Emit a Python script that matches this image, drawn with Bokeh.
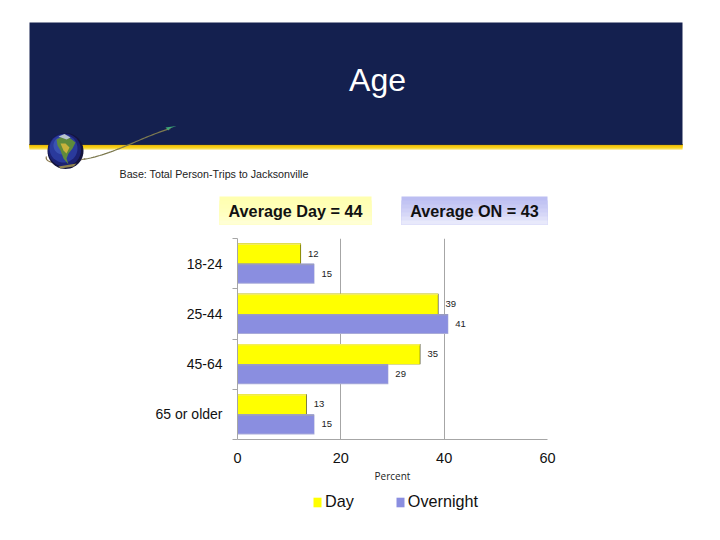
import math
from bokeh.plotting import figure
from bokeh.layouts import column
from bokeh.embed import file_html
from bokeh.resources import INLINE
from bokeh.core.properties import value
from bokeh.models import (ColumnDataSource, Range1d, FixedTicker, Legend, LegendItem, LabelSet)

categories = ["18-24", "25-44", "45-64", "65 or older"]
day_values = [12.3, 38.9, 35.4, 13.4]
overnight_values = [14.9, 40.8, 29.2, 14.9]
day_labels = ["12", "39", "35", "13"]
overnight_labels = ["15", "41", "29", "15"]
x_ticks = [0, 20, 40, 60]
series_names = ["Day", "Overnight"]
series_colors = ["#ffff00", "#8a8ee0"]
title_text = "Age"
base_text = "Base: Total Person-Trips to Jacksonville"
avg_day_text = "Average Day = 44"
avg_on_text = "Average ON = 43"

FONT = "Liberation Sans"
W, H = 720, 540
HEAD = 230
CHART_END = 490

# ---------- header: slide banner, note and the two average boxes ----------
h = figure(width=W, height=HEAD, output_backend="svg", toolbar_location=None,
           x_range=Range1d(0, W), y_range=Range1d(HEAD, 0),
           x_axis_type=None, y_axis_type=None, min_border=0, frame_align=False,
           background_fill_color="white", border_fill_color="white", outline_line_color=None)
h.grid.visible = False


def box(l, t, r, b, color):
    h.quad(left=[l], right=[r], top=[t], bottom=[b], fill_color=color, line_color=None)


def text(x, y, s, size, color="#111111", style="normal", align="left", font=FONT):
    h.text(x=[x], y=[y], text=[s], text_font=value(font), text_font_size=size, text_color=color,
           text_font_style=style, text_align=align, text_baseline="middle")


# gradients are painted as nested boxes, each overlapping the next, so no seams show
for i, c in enumerate(["#fbeea0", "#f8dc4a", "#f6d21f", "#f5c80f", "#e8b90c", "#3b3a2c"]):
    box(29, 143.5, 682, 149.5 - i, c)
box(29, 22, 682, 144, "#14204f")
text(377, 79, title_text, "32px", "#ffffff", align="center")
text(119, 173.5, base_text, "10.7px", "#222222")

for i, c in enumerate(["#ffffb0", "#ffffb4", "#ffffb8", "#ffffbc", "#ffffc2", "#ffffca", "#ffffd4"]):
    box(219, 196 + i * 4, 371, 224, c)
for i, c in enumerate(["#bcbef2", "#c2c4f3", "#c8caf4", "#cfd0f6", "#d6d7f7", "#dfe0f9", "#e8e9fb"]):
    box(401, 196 + i * 4, 547, 224, c)
text(295, 210, avg_day_text, "16.2px", "#111111", "bold", "center")
text(474, 210, avg_on_text, "16.2px", "#111111", "bold", "center")


def bez(p0, p1, p2, p3, n=40):
    xs, ys = [], []
    for k in range(n + 1):
        t = k / n
        a, b, c, d = (1 - t) ** 3, 3 * t * (1 - t) ** 2, 3 * t * t * (1 - t), t ** 3
        xs.append(a * p0[0] + b * p1[0] + c * p2[0] + d * p3[0])
        ys.append(a * p0[1] + b * p1[1] + c * p2[1] + d * p3[1])
    return xs, ys


def disc(cx, cy, r, color):
    a = [2 * math.pi * k / 48 for k in range(48)]
    h.patch([cx + r * math.cos(t) for t in a], [cy + r * math.sin(t) for t in a],
            fill_color=color, line_color=None)


def shape(xs, ys, color):
    h.patch(xs, ys, fill_color=color, line_color=None)


ox, oy = bez((46, 156), (43, 163), (62, 165), (85, 158))
h.line(ox, oy, line_color="#8a7a50", line_width=1.2)
ox, oy = bez((83, 159), (115, 153), (140, 137), (170, 128))
h.line(ox, oy, line_color="#7d7a50", line_width=1.2)
disc(65, 150.5, 18, "#14143c")
disc(64, 149.5, 16.5, "#1c2272")
disc(63, 148, 14, "#2a3a9c")
disc(62, 145, 9, "#3a52b0")
shape([56, 62, 70, 75, 72, 68, 66, 68, 63, 60, 57], [139, 136, 138, 142, 148, 153, 158, 164, 158, 150, 145], "#5f8a3c")
shape([60, 65, 69, 66, 63], [143, 143, 147, 153, 150], "#c9b23c")
shape([58, 64, 70, 66], [136, 133.5, 137, 139], "#b8c4cc")
shape([58, 76, 73, 60], [166, 163, 166, 168], "#8f8350")
shape([176, 165, 168, 169], [125.5, 127, 130, 128], "#3fa878")

# ---------- the chart ----------
p = figure(width=W, height=CHART_END - HEAD, output_backend="svg", toolbar_location=None,
           x_range=Range1d(0, 60), y_range=Range1d(4, 0),
           min_border_left=237, min_border_right=W - 547,
           min_border_top=238 - HEAD, min_border_bottom=CHART_END - 439, frame_align=False,
           background_fill_color="white", border_fill_color="white",
           outline_line_color=None)

y_pos = [i + 0.5 for i in range(len(categories))]
day_y = [v - 0.2 for v in y_pos]
on_y = [v + 0.2 for v in y_pos]
src = ColumnDataSource(dict(day_y=day_y, on_y=on_y, day=day_values, on=overnight_values,
                            dl=day_labels, ol=overnight_labels))

p.hbar(y="day_y", right="day", height=0.4, source=src, fill_color="#3a3a10", line_color=None)
p.hbar(y=day_y, right=[v - 0.12 for v in day_values], height=0.4,
       fill_color=series_colors[0], line_color=None)
p.hbar(y=[v - 0.385 for v in y_pos], right=[v - 0.12 for v in day_values], height=0.03,
       fill_color="#f4ee5a", line_color=None)
p.hbar(y="on_y", right="on", height=0.4, source=src, fill_color="#a9abd8", line_color=None)
p.hbar(y=[v + 0.19 for v in y_pos], right=[v - 0.1 for v in overnight_values], height=0.38,
       fill_color=series_colors[1], line_color=None)
p.hbar(y=[v + 0.015 for v in y_pos], right=[v - 0.1 for v in overnight_values], height=0.03,
       fill_color="#9a9cc0", line_color=None)

for col, lab, xcol in (("day_y", "dl", "day"), ("on_y", "ol", "on")):
    p.add_layout(LabelSet(x=xcol, y=col, text=lab, source=src, x_offset=7, y_offset=0,
                          text_font=value(FONT), text_font_size="9.5px", text_color="#222222",
                          text_baseline="middle"))

p.xaxis.ticker = FixedTicker(ticks=x_ticks)
p.xaxis.major_tick_line_color = None
p.xaxis.minor_tick_line_color = None
p.xaxis.axis_line_color = "#a6a6a6"
p.xaxis.major_label_text_font = FONT
p.xaxis.major_label_text_font_size = "14.5px"
p.xaxis.major_label_text_color = "#111111"
p.xaxis.major_label_standoff = 7
p.xaxis.axis_label = "Percent"
p.xaxis.axis_label_text_font = "Open Sans"
p.xaxis.axis_label_text_font_style = "normal"
p.xaxis.axis_label_text_font_size = "10px"
p.xaxis.axis_label_text_color = "#222222"
p.xaxis.axis_label_standoff = 3

p.yaxis.ticker = FixedTicker(ticks=y_pos, minor_ticks=list(range(len(categories) + 1)))
p.yaxis.major_label_overrides = {v: c for v, c in zip(y_pos, categories)}
p.yaxis.major_tick_line_color = None
p.yaxis.minor_tick_line_color = "#a6a6a6"
p.yaxis.minor_tick_in = 0
p.yaxis.minor_tick_out = 5
p.yaxis.axis_line_color = "#a6a6a6"
p.yaxis.major_label_text_font = FONT
p.yaxis.major_label_text_font_size = "14px"
p.yaxis.major_label_text_color = "#111111"
p.yaxis.major_label_standoff = 9

p.xgrid.ticker = FixedTicker(ticks=x_ticks)
p.xgrid.grid_line_color = "#a6a6a6"
p.ygrid.grid_line_color = None

# ---------- legend strip ----------
f = figure(width=W, height=H - CHART_END, output_backend="svg", toolbar_location=None,
           x_range=Range1d(0, 1), y_range=Range1d(0, 1),
           x_axis_type=None, y_axis_type=None, min_border=0, frame_align=False,
           background_fill_color="white", border_fill_color="white", outline_line_color=None)
f.grid.visible = False
swatches = [f.hbar(y=[-1], right=[-1], height=0.1, fill_color=c, line_color=None) for c in series_colors]
legend = Legend(items=[LegendItem(label=n, renderers=[r]) for n, r in zip(series_names, swatches)],
                location=(312, 29), orientation="horizontal", glyph_width=10, glyph_height=12,
                label_text_font=FONT, label_text_font_size="16.2px", label_text_color="#111111",
                label_standoff=3, spacing=41, padding=0, margin=0,
                border_line_color=None, background_fill_alpha=0)
f.add_layout(legend)

open("out.html", "w").write(file_html(column(h, p, f, spacing=0), INLINE))
